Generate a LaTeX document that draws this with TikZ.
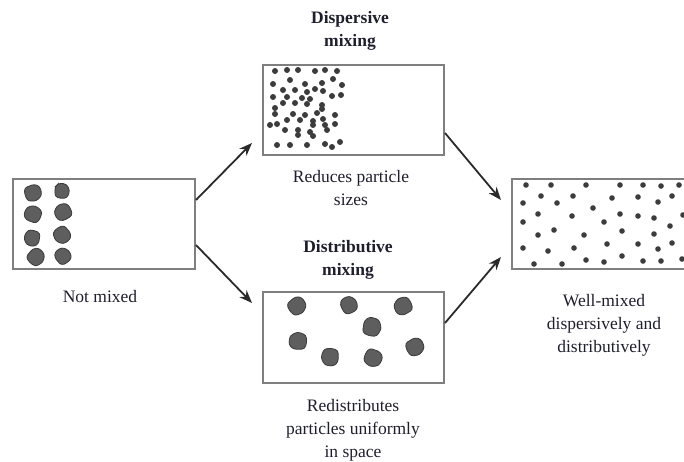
\documentclass[tikz,border=0pt]{standalone}
\usepackage{fontspec}
\setmainfont{Liberation Serif}
\usetikzlibrary{arrows.meta}
\definecolor{boxc}{HTML}{7F7F7F}
\definecolor{blobc}{HTML}{5E5E5E}
\definecolor{blobe}{HTML}{3A3A3A}
\definecolor{dotc}{HTML}{3C3C3C}
\definecolor{arrc}{HTML}{2A2A2A}
\definecolor{txtc}{HTML}{1E1E2E}
\begin{document}
\begin{tikzpicture}[x=1pt,y=-1pt,
 box/.style={draw=boxc, line width=2pt, fill=white, inner sep=0pt},
 arr/.style={draw=arrc, line width=1.8pt, -{Stealth[length=13pt,width=10pt]}},
 lbl/.style={align=center, text=txtc, font=\fontsize{17.5}{23}\selectfont, inner sep=0pt},
 ttl/.style={align=center, text=txtc, font=\fontsize{17.5}{23}\selectfont\bfseries, inner sep=0pt},
 dotst/.style={fill=dotc},
 pics/blob/.style={code={\fill[blobc, draw=blobe, line width=0.8pt, rounded corners=2.8pt] (-7.5,-6.5) -- (3,-8.5) -- (8,-5) -- (8.5,3.5) -- (2,8.5) -- (-6.5,7) -- (-8.5,0) -- cycle;}}
]
\useasboundingbox (0,0) rectangle (684,461);
\clip (0,0) rectangle (684,461);

% boxes
\node[box, minimum width=182pt, minimum height=90pt] (L) at (104,224) {};
\node[box, minimum width=181pt, minimum height=90pt] (T) at (353.5,110) {};
\node[box, minimum width=181pt, minimum height=91pt] (B) at (353.5,337.5) {};
\node[box, minimum width=184pt, minimum height=90pt] (R) at (604,224) {};

% not mixed blobs
\pic[rotate=10] at (33,193) {blob};
\pic[rotate=80, scale=0.9] at (62,191) {blob};
\pic[rotate=150] at (33,214) {blob};
\pic[rotate=200] at (63,212) {blob};
\pic[rotate=250, scale=0.95] at (32,238) {blob};
\pic[rotate=300] at (62,235) {blob};
\pic[rotate=40] at (36,257) {blob};
\pic[rotate=120, scale=0.95] at (63,256) {blob};

% dispersive dots
\foreach \x/\y in {275/71,287/70,298/70,315/71,325/70,337/71,
 290/80,333/79,
 273/84,305/84,322/83,342/85,
 283/90,295/90,307/92,315/89,323/91,
 273/97,287/97,302/98,310/99,332/96,341/95,
 283/103,295/103,307/104,322/105,
 275/108,322/109,
 275/114,293/114,305/115,317/113,335/115,
 287/120,300/120,313/121,323/119,
 270/125,277/124,313/125,325/125,335/124,
 285/130,298/130,310/132,327/130,
 298/135,313/136,
 277/145,290/145,307/145,325/144,332/147,340/142}
 \fill[dotst] (\x,\y) circle (3pt);

% distributive blobs
\pic[rotate=30, scale=1.05] at (297,306) {blob};
\pic[rotate=110] at (349,305) {blob};
\pic[rotate=200, scale=1.05] at (403,306) {blob};
\pic[rotate=70, scale=1.1] at (372,327) {blob};
\pic[rotate=170, scale=1.05] at (298,341) {blob};
\pic[rotate=260, scale=1.05] at (330,357) {blob};
\pic[rotate=330, scale=1.05] at (373,358) {blob};
\pic[rotate=20, scale=1.05] at (415,347) {blob};

% well-mixed dots
\foreach \x/\y in {526/185,551/185,586/185,620/185,643/185,661/186,679/185,
 541/196,573/196,612/198,638/197,672/196,
 523/203,557/203,658/202,
 593/208,
 538/214,572/216,620/214,638/216,654/218,683/215,
 523/222,604/222,
 670/226,
 554/230,622/231,
 538/235,584/235,654/234,
 607/244,638/244,672/243,
 523/248,574/248,658/249,
 548/251,
 622/256,
 586/260,604/262,643/261,661/261,682/259,
 534/264,562/264}
 \fill[dotst] (\x,\y) circle (2.8pt);

% labels
\node[lbl] (nm) at (100,297) {Not mixed};
\node[ttl] (dt) at (350,31) {Dispersive\\mixing};
\node[lbl] (dl) at (351,188) {Reduces particle\\sizes};
\node[ttl] (st) at (348,260) {Distributive\\mixing};
\node[lbl] (sl) at (353,430) {Redistributes\\particles uniformly\\in space};
\node[lbl] (wl) at (604,325) {Well-mixed\\dispersively and\\distributively};

% arrows
\draw[arr] ([yshift=24pt]L.east) -- ([xshift=-10pt,yshift=-33pt]T.west);
\draw[arr] ([yshift=-21pt]L.east) -- ([xshift=-10pt,yshift=34.5pt]B.west);
\draw[arr] ([yshift=-23pt]T.east) -- ([xshift=-10pt,yshift=24pt]R.west);
\draw[arr] ([yshift=14.5pt]B.east) -- ([xshift=-10pt,yshift=-33pt]R.west);
\end{tikzpicture}
\end{document}
